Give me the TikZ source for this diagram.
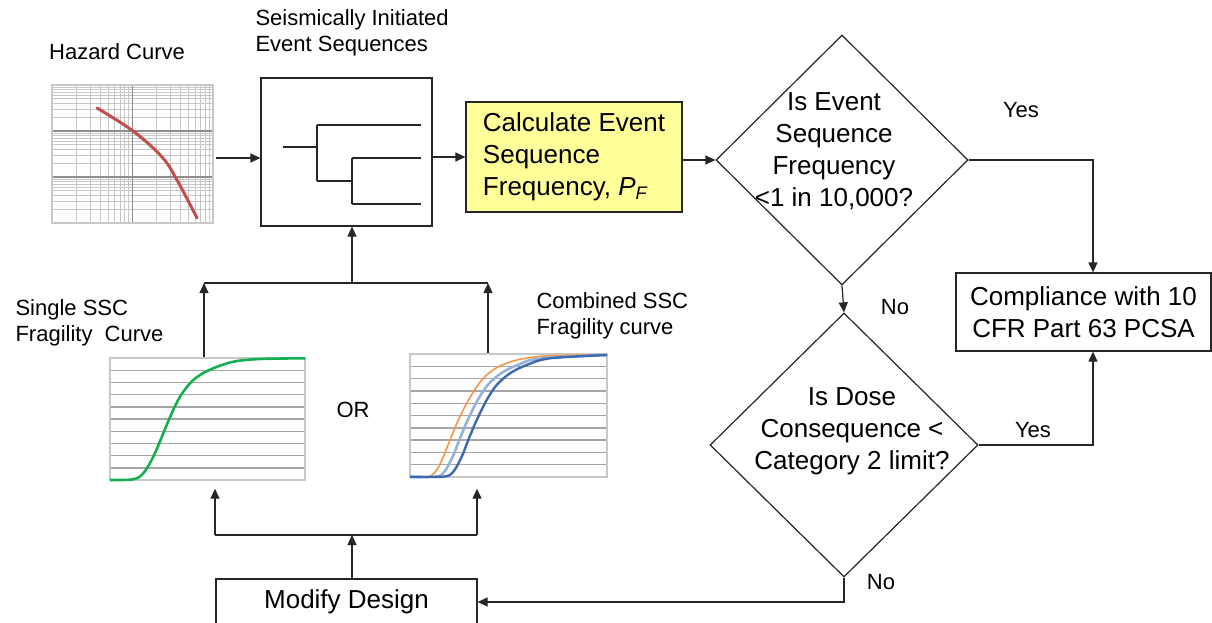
\documentclass[tikz,border=0pt]{standalone}
\usepackage{fontspec}
\setmainfont{Liberation Sans}
\usetikzlibrary{arrows.meta,shapes.geometric}
\definecolor{hazred}{RGB}{192,80,77}
\definecolor{fraggreen}{RGB}{20,176,80}
\definecolor{fragorange}{RGB}{247,150,70}
\definecolor{fragpale}{RGB}{150,178,214}
\definecolor{fragblue}{RGB}{60,105,175}
\definecolor{calcyellow}{RGB}{255,255,153}
\definecolor{gridmajor}{RGB}{140,140,140}
\definecolor{gridminor}{RGB}{198,198,198}
\definecolor{chartline}{RGB}{165,165,165}
\definecolor{chartedge}{RGB}{200,200,200}
\begin{document}
\begin{tikzpicture}[x=1pt,y=-1pt,
  conn/.style={draw=black!85,line width=1.2pt},
  arr/.style={conn,-{Triangle[length=10pt,width=9pt]}},
  big/.style={font=\fontsize{26}{32}\selectfont},
  small/.style={font=\fontsize{22}{26.5}\selectfont},
  stepbox/.style={draw=black!85,line width=1.2pt,inner sep=0pt},
  decision/.style={diamond,draw=black!85,line width=1.2pt,inner sep=0pt},
  chartframe/.style={draw=chartedge,line width=1.4pt,inner sep=0pt}]
\useasboundingbox (0,0) rectangle (1212,623);
\clip (0,0) rectangle (1212,623);
\fill[white] (0,0) rectangle (1212,623);

% ---------- hazard curve (log-log grid) ----------
\foreach \d in {0,1}{
  \foreach \k in {2,...,9}{
    \pgfmathsetmacro\gx{52+80.5*(\d+log10(\k))}
    \draw[gridminor,line width=1pt] (\gx,85) -- (\gx,223);
  }}
\foreach \d in {0,1,2}{
  \foreach \k in {2,...,9}{
    \pgfmathsetmacro\gy{223-46*(\d+log10(\k))}
    \draw[gridminor,line width=1pt] (52,\gy) -- (213,\gy);
  }}
\draw[gridmajor,line width=1.2pt] (132.5,85) -- (132.5,223);
\draw[gridmajor,line width=1.2pt] (52,131) -- (213,131);
\draw[gridmajor,line width=1.2pt] (52,177) -- (213,177);
\node[chartframe,minimum width=161pt,minimum height=138pt] (haz) at (132.5,154) {};
\draw[hazred,line width=3pt,line cap=round] plot[smooth,tension=0.6]
  coordinates {(97,108) (133,131) (162,157) (177,180) (197,218)};

% ---------- single SSC fragility curve ----------
\foreach \i in {1,...,9}{
  \draw[chartline,line width=1.4pt] (110,358+12.2*\i) -- (305,358+12.2*\i);
}
\node[chartframe,minimum width=195pt,minimum height=122pt] (single) at (207.5,419) {};
\begin{scope}
  \clip (110,356) rectangle (305,482);
  \draw[fraggreen,line width=2.6pt] plot[smooth,tension=0.55] coordinates {
    (110,480) (133,479.3) (143.3,473.3) (153.3,456.7) (163.3,433.3)
    (171.7,413.3) (180,396.7) (190,383.3) (200,375) (213.3,368.3)
    (233.3,361.7) (260,359) (305,358.3)};
\end{scope}

% ---------- combined SSC fragility curve ----------
\foreach \i in {1,...,9}{
  \draw[chartline,line width=1.4pt] (410,354+12.3*\i) -- (607,354+12.3*\i);
}
\node[chartframe,minimum width=197pt,minimum height=123pt] (comb) at (508.5,415.5) {};
\begin{scope}
  \clip (410,352) rectangle (607,479);
  \draw[fragorange,line width=1.6pt] plot[smooth,tension=0.55] coordinates {
    (410,476.7) (428.3,476.7) (436.7,470) (443.3,456.7) (450,440)
    (458.3,420) (466.7,403.3) (476.7,386.7) (486.7,375) (500,366)
    (520,359.3) (550,355.7) (607,355)};
  \begin{scope}[xshift=-9pt]
    \draw[fragpale,line width=2.6pt] plot[smooth,tension=0.55] coordinates {
      (400,476.7) (443.3,476.7) (453.3,471.7) (461.7,456.7) (468.3,440)
      (476.7,420) (486.7,400) (496.7,385) (510,373.3) (526.7,365)
      (550,358.3) (620,355)};
  \end{scope}
  \draw[fragblue,line width=2.4pt] plot[smooth,tension=0.55] coordinates {
    (410,476.7) (443.3,476.7) (453.3,471.7) (461.7,456.7) (468.3,440)
    (476.7,420) (486.7,400) (496.7,385) (510,373.3) (526.7,365)
    (550,358.3) (607,355)};
\end{scope}

% ---------- event sequence tree ----------
\node[stepbox,minimum width=171pt,minimum height=148pt] (esd) at (346.5,152) {};
\draw[conn] (283,147) -- (317,147);
\draw[conn] (317,125) -- (317,181);
\draw[conn] (317,125) -- (421,125);
\draw[conn] (317,181) -- (352,181);
\draw[conn] (352,158) -- (352,204);
\draw[conn] (352,158) -- (421,158);
\draw[conn] (352,204) -- (421,204);

% ---------- process boxes and decisions ----------
\node[stepbox,fill=calcyellow,minimum width=216pt,minimum height=110pt,
      align=left,big] (calc) at (574,157)
  {Calculate Event\\Sequence\\Frequency, \textit{P\textsubscript{F}}};
\node[decision,minimum width=252pt,minimum height=250pt] (d1) at (842,160) {};
\node[big,align=center] (d1t) at (834,151)
  {Is Event\\Sequence\\Frequency\\<1 in 10,000?};
\node[decision,minimum width=268pt,minimum height=264pt] (d2) at (844,445) {};
\node[big,align=center] (d2t) at (852,431)
  {Is Dose\\Consequence <\\Category 2 limit?};
\node[stepbox,minimum width=255pt,minimum height=78pt,align=center,big]
  (comp) at (1083.5,312) {Compliance with 10\\CFR Part 63 PCSA};
\node[stepbox,minimum width=261pt,minimum height=46pt,big]
  (mod) at (346.5,602) {Modify Design};

% ---------- labels ----------
\node[small] (lhaz) at (117,52) {Hazard Curve};
\node[small,align=left,anchor=west] (lesd) at (252,33)
  {Seismically Initiated\\Event Sequences};
\node[small,align=left,anchor=west] (lsingle) at (12,323)
  {Single SSC\\Fragility~~Curve};
\node[small,align=left,anchor=west] (lcomb) at (533,316)
  {Combined SSC\\Fragility curve};
\node[small] (lor) at (353,410) {OR};
\node[small] (lyes1) at (1021,110) {Yes};
\node[small] (lno1) at (895,307) {No};
\node[small] (lyes2) at (1033,430) {Yes};
\node[small] (lno2) at (881,582) {No};

% ---------- connectors ----------
\coordinate (hzo) at (216,158);
\draw[arr] (hzo) -- (hzo -| esd.west);
\draw[arr] (esd.east |- calc.west) -- (calc.west);
\draw[arr] (calc.east |- d1.west) -- (d1.west);
\coordinate (cx) at (1093,0);
\draw[arr] (d1.east) -| (cx |- comp.north);
\draw[arr] (d1.south) -- (d2.north);
\draw[arr] (d2.east) -| (cx |- comp.south);
\draw[arr] (d2.south) |- (mod.east);

\coordinate (jb) at (352,535);
\coordinate (jbl) at (215,535);
\coordinate (jbr) at (477,535);
\draw[arr] (jb |- mod.north) -- (jb);
\draw[conn] (jbl) -- (jbr);
\draw[arr,shorten >=8pt] (jbl) -- (jbl |- single.south);
\draw[arr,shorten >=11pt] (jbr) -- (jbr |- comb.south);

\coordinate (jt) at (352,283);
\coordinate (jtl) at (204,283);
\coordinate (jtr) at (488,283);
\draw[arr] (jtl |- single.north) -- (jtl);
\draw[arr] (jtr |- comb.north) -- (jtr);
\draw[conn] (jtl) -- (jtr);
\draw[arr] (jt) -- (jt |- esd.south);
\end{tikzpicture}
\end{document}
